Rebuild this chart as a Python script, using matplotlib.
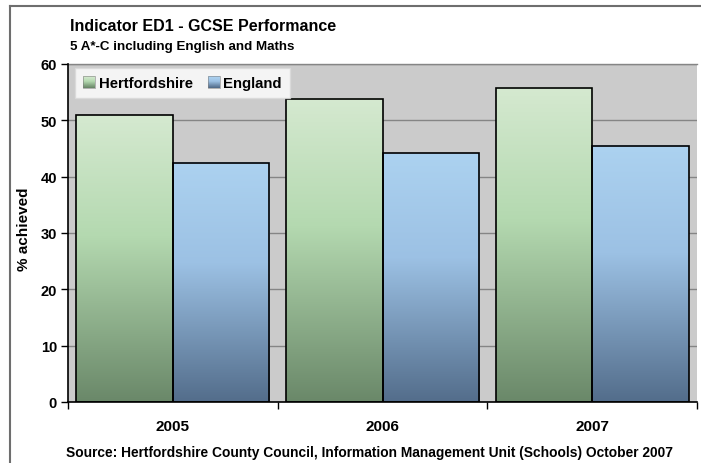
import numpy as np
import matplotlib
matplotlib.use("Agg")
import matplotlib.pyplot as plt
from matplotlib.colors import LinearSegmentedColormap
from matplotlib.patches import Rectangle
from matplotlib.legend_handler import HandlerBase
from matplotlib.lines import Line2D

years = ["2005", "2006", "2007"]
series_names = ["Hertfordshire", "England"]
hertfordshire = [50.9, 53.8, 55.8]
england = [42.5, 44.2, 45.5]
yticks = [0, 10, 20, 30, 40, 50, 60]

plt.rcParams['font.family'] = ['Liberation Sans', 'DejaVu Sans']
plt.rcParams['font.weight'] = 'bold'

W, H = 701, 464
fig = plt.figure(figsize=(W / 100, H / 100), dpi=100)
fig.patch.set_facecolor('white')

ax = fig.add_axes([68 / W, (H - 403) / H, (697 - 68) / W, (403 - 65) / H])
ax.set_facecolor('#cbcbcb')

green_cmap = LinearSegmentedColormap.from_list(
    'g', [(0, '#d5e9d0'), (0.42, '#b4d9b0'), (1, '#6a8869')])
blue_cmap = LinearSegmentedColormap.from_list(
    'b', [(0, '#acd2f0'), (0.42, '#9cc1e4'), (1, '#536d8b')])

grad = np.linspace(0, 1, 256).reshape(-1, 1)
bw = 0.46
x = np.arange(len(years))

def grad_bar(xl, h, cmap):
    ax.imshow(grad, cmap=cmap, extent=[xl, xl + bw, 0, h], aspect='auto',
              origin='upper', zorder=2, interpolation='bilinear')
    ax.add_patch(Rectangle((xl, 0), bw, h, fill=False, edgecolor='black',
                           lw=1.2, zorder=3))

for i in range(len(years)):
    grad_bar(x[i] - bw, hertfordshire[i], green_cmap)
    grad_bar(x[i], england[i], blue_cmap)

ax.set_xlim(-0.5, len(years) - 0.5)
ax.set_ylim(0, 60)
ax.set_yticks(yticks)
ax.set_yticklabels([str(v) for v in yticks], fontsize=10.5, fontweight='bold')
ax.yaxis.grid(True, color='#858585', lw=1)
ax.set_axisbelow(True)

ax.set_xticks(x)
ax.set_xticklabels(years, fontsize=11, fontweight='bold')
ax.tick_params(axis='x', length=0, pad=12)
ax.set_xticks(np.arange(len(years) + 1) - 0.5, minor=True)
ax.tick_params(axis='x', which='minor', length=5, color='black', width=1)
ax.tick_params(axis='y', length=5, color='black', width=1, pad=3)

for s in ['left', 'bottom']:
    ax.spines[s].set_color('black')
    ax.spines[s].set_linewidth(1.2)
ax.spines['top'].set_color('#858585')
ax.spines['top'].set_linewidth(1)
ax.spines['right'].set_visible(False)
ax.spines['left'].set_zorder(5)
ax.spines['bottom'].set_zorder(5)

ax.set_ylabel('% achieved', fontsize=11, fontweight='bold', labelpad=7)
ax.yaxis.label.set_y(0.515)

class GradHandler(HandlerBase):
    def __init__(self, cmap):
        super().__init__()
        self.cmap = cmap
    def create_artists(self, legend, orig_handle, xdescent, ydescent,
                       width, height, fontsize, trans):
        n = 12
        arts = []
        for k in range(n):
            y0 = -ydescent + height * (1 - (k + 1) / n)
            arts.append(Rectangle((-xdescent, y0), width, height / n + 0.01,
                                  facecolor=self.cmap(k / (n - 1)),
                                  edgecolor='none', transform=trans))
        arts.append(Rectangle((-xdescent, -ydescent), width, height,
                              fill=False, edgecolor='#7f7f7f', lw=0.4,
                              transform=trans))
        return arts

h1 = Rectangle((0, 0), 1, 1)
h2 = Rectangle((0, 0), 1, 1)
leg = ax.legend([h1, h2], series_names, loc='upper left',
                bbox_to_anchor=((75 - 68) / (697 - 68), 1 - (69 - 65) / (403 - 65)),
                ncol=2, frameon=True, fancybox=False,
                handler_map={h1: GradHandler(green_cmap), h2: GradHandler(blue_cmap)},
                handlelength=0.8, handleheight=0.8, handletextpad=0.25,
                columnspacing=1.0, borderpad=0.55, borderaxespad=0,
                prop={'weight': 'bold', 'size': 10.7})
leg.get_frame().set_edgecolor('#d9d9d9')
leg.get_frame().set_linewidth(1)
leg.set_zorder(10)

fig.text(70 / W, 1 - 31 / H, 'Indicator ED1 - GCSE Performance',
         fontsize=11.5, fontweight='bold', ha='left', va='baseline')
fig.text(70 / W, 1 - 50 / H, '5 A*-C including English and Maths',
         fontsize=9.6, fontweight='bold', ha='left', va='baseline')
fig.text(370 / W, 1 - 457 / H,
         'Source: Hertfordshire County Council, Information Management Unit (Schools) October 2007',
         fontsize=9.9, fontweight='bold', ha='center', va='baseline')

fig.add_artist(Line2D([10 / W, 10 / W], [-0.05, 1 - 7 / H], color='#6e6e6e', lw=1.5,
                      transform=fig.transFigure))
fig.add_artist(Line2D([10 / W, 1.05], [1 - 7 / H, 1 - 7 / H], color='#6e6e6e', lw=1.5,
                      transform=fig.transFigure))

fig.savefig('out.png', dpi=100, facecolor='white')
